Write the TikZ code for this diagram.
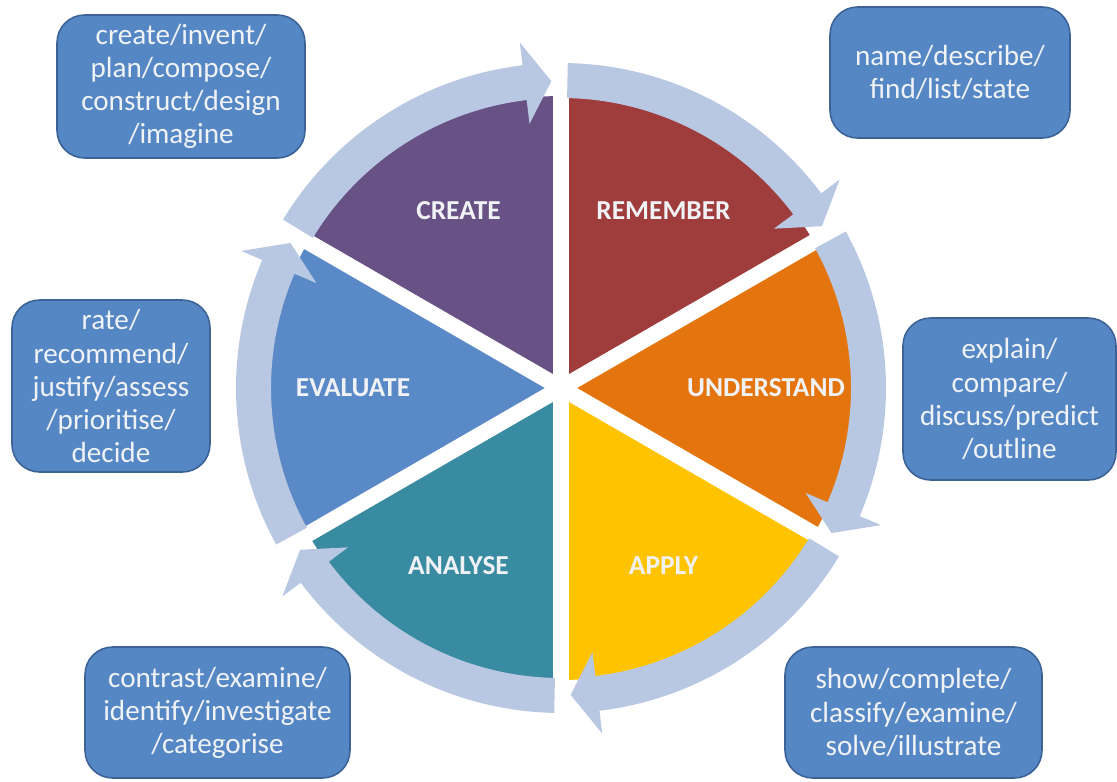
\documentclass[tikz,border=0pt]{standalone}
\usepackage{fontspec}
\setmainfont{Carlito}
\definecolor{createcol}{RGB}{104,82,133}
\definecolor{remembercol}{RGB}{158,61,59}
\definecolor{understandcol}{RGB}{228,117,14}
\definecolor{applycol}{RGB}{255,195,0}
\definecolor{analysecol}{RGB}{57,139,161}
\definecolor{evaluatecol}{RGB}{89,137,198}
\definecolor{ringcol}{RGB}{184,200,226}
\definecolor{boxcol}{RGB}{84,135,196}
\definecolor{boxline}{RGB}{60,98,150}
\definecolor{boxtext}{RGB}{240,242,246}
\tikzset{
  stage/.style={text=boxtext, font=\fontsize{15.6}{18.8}\selectfont\bfseries},
  verbbox/.style={draw=boxline, line width=0.9pt, fill=boxcol, rounded corners=0.55cm,
    text=boxtext, align=center, inner sep=0pt, font=\fontsize{16.6}{18.8}\selectfont},
  gapline/.style={white, line width=0.32cm},
  ring/.style={fill=ringcol}
}
\begin{document}
\begin{tikzpicture}[scale=0.02]  %Bloom cycle
\useasboundingbox (-561,-393) rectangle (556,388);
% wedges
\fill[createcol] (0,0) -- (90:292) arc[start angle=90, end angle=150, radius=292] -- cycle;
\fill[remembercol] (0,0) -- (30:292) arc[start angle=30, end angle=90, radius=292] -- cycle;
\fill[understandcol] (0,0) -- (-30:292) arc[start angle=-30, end angle=30, radius=292] -- cycle;
\fill[applycol] (0,0) -- (-90:292) arc[start angle=-90, end angle=-30, radius=292] -- cycle;
\fill[analysecol] (0,0) -- (-150:292) arc[start angle=-150, end angle=-90, radius=292] -- cycle;
\fill[evaluatecol] (0,0) -- (150:292) arc[start angle=150, end angle=210, radius=292] -- cycle;
\draw[gapline] (0,0) -- (90:300);
\draw[gapline] (0,0) -- (30:300);
\draw[gapline] (0,0) -- (-30:300);
\draw[gapline] (0,0) -- (-90:300);
\draw[gapline] (0,0) -- (-150:300);
\draw[gapline] (0,0) -- (150:300);
% arrows round the ring
\fill[ring] (148.8:290) arc[start angle=148.8, end angle=96.8, radius=290] -- (96.8:266) -- (91.8:307) -- (96.8:348) -- (96.8:325) arc[start angle=96.8, end angle=148.8, radius=325] -- cycle;
\fill[ring] (88.8:290) arc[start angle=88.8, end angle=36.8, radius=290] -- (36.8:266) -- (31.8:307) -- (36.8:348) -- (36.8:325) arc[start angle=36.8, end angle=88.8, radius=325] -- cycle;
\fill[ring] (28.8:290) arc[start angle=28.8, end angle=-23.2, radius=290] -- (-23.2:266) -- (-28.2:307) -- (-23.2:348) -- (-23.2:325) arc[start angle=-23.2, end angle=28.8, radius=325] -- cycle;
\fill[ring] (-31.2:290) arc[start angle=-31.2, end angle=-83.2, radius=290] -- (-83.2:266) -- (-88.2:307) -- (-83.2:348) -- (-83.2:325) arc[start angle=-83.2, end angle=-31.2, radius=325] -- cycle;
\fill[ring] (-91.2:290) arc[start angle=-91.2, end angle=-143.2, radius=290] -- (-143.2:266) -- (-148.2:307) -- (-143.2:348) -- (-143.2:325) arc[start angle=-143.2, end angle=-91.2, radius=325] -- cycle;
\fill[ring] (208.8:290) arc[start angle=208.8, end angle=156.8, radius=290] -- (156.8:266) -- (151.8:307) -- (156.8:348) -- (156.8:325) arc[start angle=156.8, end angle=208.8, radius=325] -- cycle;
% stage names
\node[stage] (create) at (120:205) {CREATE};
\node[stage] (remember) at (60:205) {REMEMBER};
\node[stage] (understand) at (0:205) {UNDERSTAND};
\node[stage] (apply) at (-60:205) {APPLY};
\node[stage] (analyse) at (-120:205) {ANALYSE};
\node[stage] (evaluate) at (180:208) {EVALUATE};
% verb boxes
\node[verbbox, minimum width=4.96cm, minimum height=2.86cm] (createverbs) at (-380,301.5) {create/invent/\\plan/compose/\\construct/design\\/imagine};
\node[verbbox, minimum width=4.8cm, minimum height=2.62cm] (rememberverbs) at (389,315.5) {name/describe/\\find/list/state};
\node[verbbox, minimum width=4.26cm, minimum height=3.24cm] (understandverbs) at (448.5,-11) {explain/\\compare/\\discuss/predict\\/outline};
\node[verbbox, minimum width=5.14cm, minimum height=2.62cm] (applyverbs) at (352.5,-324.5) {show/complete/\\classify/examine/\\solve/illustrate};
\node[verbbox, minimum width=5.3cm, minimum height=2.62cm] (analyseverbs) at (-343.5,-324.5) {contrast/examine/\\identify/investigate\\/categorise};
\node[verbbox, minimum width=3.96cm, minimum height=3.44cm] (evaluateverbs) at (-450,2) {rate/\\recommend/\\justify/assess\\/prioritise/\\decide};
\end{tikzpicture}
\end{document}
